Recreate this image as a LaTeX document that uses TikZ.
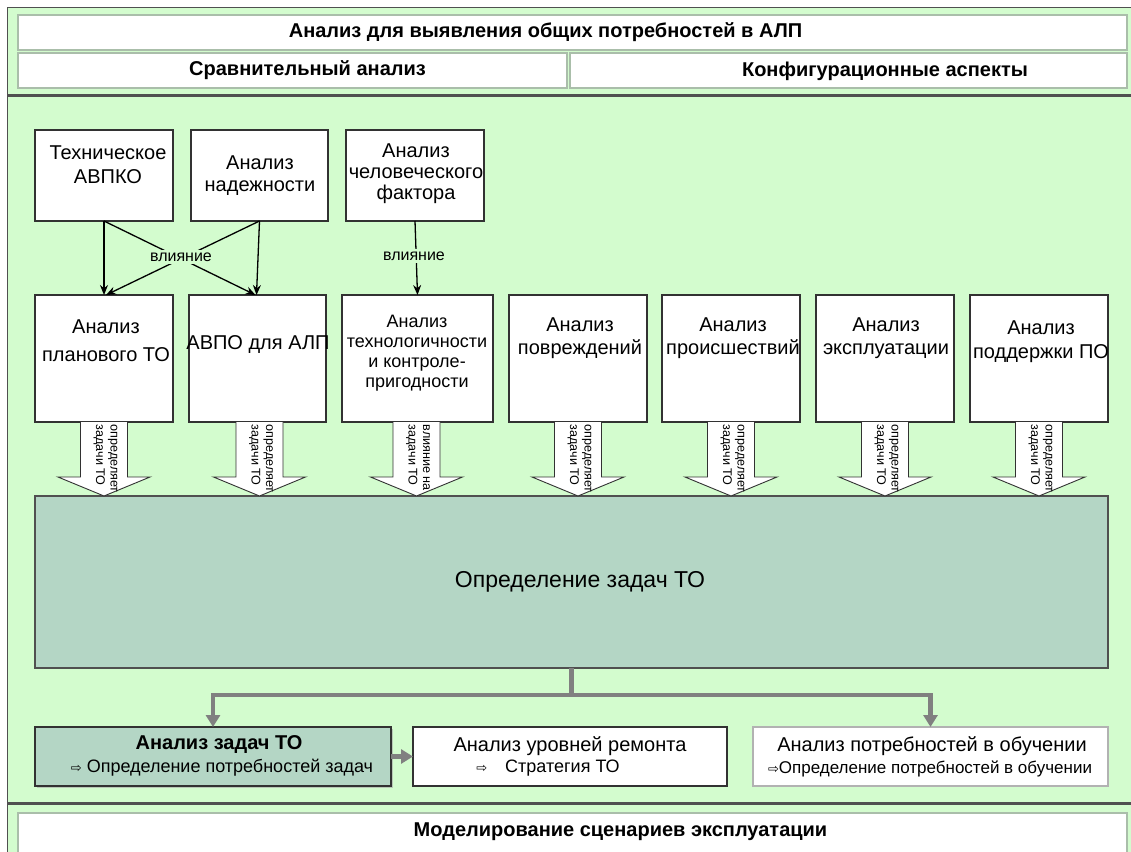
\documentclass[tikz,border=0pt]{standalone}
\usepackage{fontspec}
\setmainfont{Liberation Sans}
\newfontfamily\dejavu{DejaVu Sans}
\usetikzlibrary{arrows.meta,shadows}
\definecolor{bggreen}{RGB}{211,252,206}
\definecolor{tealbox}{RGB}{180,214,197}
\definecolor{framegray}{RGB}{80,80,80}
\definecolor{connGray}{RGB}{128,128,128}
\definecolor{hdrline}{RGB}{170,190,170}
\definecolor{boxline}{RGB}{50,50,50}
\newcommand\myfs[2]{\fontsize{#1}{#2}\selectfont}
\newcommand\wra{{\dejavu\myfs{13}{15}⇨}}
\begin{document}
\begin{tikzpicture}[x=1pt,y=-1pt,
  hdrbox/.style={draw=hdrline,line width=1.5pt,fill=white,inner sep=0pt,outer sep=0pt},
  hdrtext/.style={font=\bfseries\myfs{20}{24},inner sep=0pt},
  wbox/.style={draw=boxline,line width=1.1pt,fill=white,inner sep=0pt,outer sep=0pt},
  btext/.style={font=\myfs{20}{24},align=center,inner sep=0pt},
  inflabel/.style={font=\myfs{16}{18},fill=bggreen,inner sep=3pt},
  infl/.style={line width=1.3pt,black,-{Stealth[length=10pt,width=8pt]}},
  barrow/.style={draw=boxline,line width=0.9pt,fill=white},
  atext/.style={font=\myfs{12.6}{14.5},rotate=-90,anchor=west,align=left,inner sep=0pt},
  conn/.style={draw=connGray,line width=4.5pt},
  connarrow/.style={conn,-{Triangle[length=12pt,width=14pt]}},
  sepline/.style={draw=framegray,line width=3pt}
]
\useasboundingbox (0,0) rectangle (1131,851);
\clip (0,0) rectangle (1131,851);
\fill[white] (0,0) rectangle (1131,851);
% outer frame
\draw[draw=framegray,line width=1.5pt,fill=bggreen] (7.5,7.5) rectangle (1145,870);

% header boxes
\node[hdrbox,minimum width=1109,minimum height=35] (h1) at (572.5,32.5) {};
\node[hdrtext] (h1t) at (545.5,32) {Анализ для выявления общих потребностей в АЛП};
\node[hdrbox,minimum width=549,minimum height=35] (h2a) at (292.5,70.5) {};
\node[hdrtext] (h2at) at (307.5,70) {Сравнительный анализ};
\node[hdrbox,minimum width=557,minimum height=35] (h2b) at (848.5,70.5) {};
\node[hdrtext] (h2bt) at (885,71) {Конфигурационные аспекты};

\draw[sepline] (8,95.5) -- (1131,95.5);
\draw[sepline] (8,803) -- (1131,803);

\node[hdrbox,minimum width=1109,minimum height=50] (h3) at (572.5,838) {};
\node[hdrtext] (h3t) at (620.5,832) {Моделирование сценариев эксплуатации};

% row 1
\node[wbox,minimum width=138,minimum height=91] (b1) at (104,175.5) {};
\node[btext,font=\myfs{20}{24}] (b1t) at (108,165) {Техническое\\АВПКО};
\node[wbox,minimum width=137,minimum height=91] (b2) at (259.5,175.5) {};
\node[btext,font=\myfs{20}{22}] (b2t) at (260,176) {Анализ\\надежности};
\node[wbox,minimum width=138,minimum height=91] (b3) at (415,175.5) {};
\node[btext,font=\myfs{20}{21}] (b3t) at (416,174) {Анализ\\человеческого\\фактора};

% row 2
\node[wbox,minimum width=138,minimum height=127] (c1) at (104,358.5) {};
\node[btext,font=\myfs{20}{28}] (c1t) at (106,341) {Анализ\\планового ТО};
\node[wbox,minimum width=137,minimum height=127] (c2) at (257.5,358.5) {};
\node[btext] (c2t) at (258,345) {АВПО для АЛП};
\node[wbox,minimum width=151,minimum height=127] (c3) at (417.5,358.5) {};
\node[btext,font=\myfs{18}{20}] (c3t) at (417,353) {Анализ\\технологичности\\и контроле-\\пригодности};
\node[wbox,minimum width=138,minimum height=127] (c4) at (578,358.5) {};
\node[btext,font=\myfs{20}{23}] (c4t) at (580,338) {Анализ\\повреждений};
\node[wbox,minimum width=138,minimum height=127] (c5) at (731,358.5) {};
\node[btext,font=\myfs{20}{23}] (c5t) at (733,338) {Анализ\\происшествий};
\node[wbox,minimum width=138,minimum height=127] (c6) at (885,358.5) {};
\node[btext,font=\myfs{20}{23}] (c6t) at (886,338) {Анализ\\эксплуатации};
\node[wbox,minimum width=138,minimum height=127] (c7) at (1039,358.5) {};
\node[btext,font=\myfs{20}{24}] (c7t) at (1041,342) {Анализ\\поддержки ПО};

% influence arrows
\draw[infl] (b1.south) -- (c1.north);
\draw[infl] (b1.south) -- ([xshift=-2pt]c2.north);
\draw[infl] (b2.south) -- ([xshift=-1pt]c2.north);
\draw[infl] (b2.south) -- ([xshift=2pt]c1.north);
\draw[infl] (b3.south) -- (c3.north);
\node[inflabel] (inf1) at (181,257) {влияние};
\node[inflabel] (inf2) at (414,256) {влияние};

% big box
\node[draw=framegray,line width=1.1pt,fill=tealbox,minimum width=1073,minimum height=172,inner sep=0pt,outer sep=0pt] (big) at (571.5,582) {};
\node[font=\myfs{23}{26},inner sep=0pt] (bigt) at (580,582) {Определение задач ТО};

% block arrows
\foreach \n/\dx/\txt in {c1/0/{определяет\\задачи ТО},c2/2/{определяет\\задачи ТО},c3/-1/{влияние на\\задачи ТО},c4/0/{определяет\\задачи ТО},c5/0/{определяет\\задачи ТО},c6/0/{определяет\\задачи ТО},c7/0/{определяет\\задачи ТО}}{
  \begin{scope}[shift={([xshift=\dx pt]\n.south)}]
    \draw[barrow] (-23.5,0) -- (-23.5,55) -- (-46,55) -- (0,74) -- (46,55) -- (23.5,55) -- (23.5,0);
    \node[atext] (at\n) at (1.5,2.5) {\txt};
  \end{scope}
}

% bottom row
\node[draw=boxline,line width=1.1pt,fill=tealbox,minimum width=356,minimum height=59,inner sep=0pt,outer sep=0pt,
  drop shadow={shadow xshift=1.5pt,shadow yshift=-1.5pt,fill=black!35,opacity=0.6}] (d1) at (213,756.5) {};
\node[font=\bfseries\myfs{20}{22},inner sep=0pt] (d1t) at (219,744) {Анализ задач ТО};
\node[font=\myfs{18}{20},inner sep=0pt] (d1s) at (222,768) {\wra\ Определение потребностей задач};
\node[draw=boxline,line width=1.1pt,fill=white,minimum width=314,minimum height=59,inner sep=0pt,outer sep=0pt] (d2) at (570,756.5) {};
\node[font=\myfs{20}{22},inner sep=0pt] (d2t) at (570,746) {Анализ уровней ремонта};
\node[font=\myfs{18}{20},inner sep=0pt] (d2s) at (548,768) {\wra\hspace{18pt}Стратегия ТО};
\node[draw=black!30,line width=1.1pt,fill=white,minimum width=355,minimum height=59,inner sep=0pt,outer sep=0pt] (d3) at (930.5,756.5) {};
\node[font=\myfs{20}{22},inner sep=0pt] (d3t) at (932,746) {Анализ потребностей в обучении};
\node[font=\myfs{17}{20},inner sep=0pt] (d3s) at (930,769) {\wra Определение потребностей в обучении};

% connectors
\coordinate (split) at (571.5,695);
\draw[conn] (big.south) -- (split);
\draw[connarrow] (split) -| (d1.north);
\draw[connarrow] (split) -| (d3.north);
\draw[connarrow] (d1.east) -- (d2.west);
\end{tikzpicture}
\end{document}
